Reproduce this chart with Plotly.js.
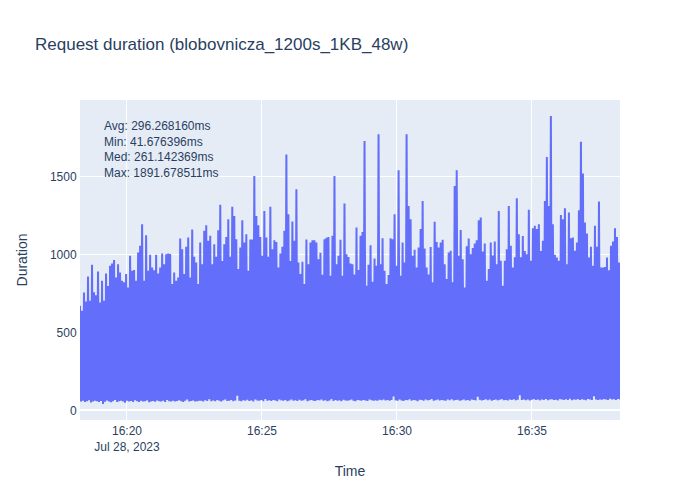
<!DOCTYPE html>
<html>
<head>
<meta charset="utf-8">
<script src="https://cdn.plot.ly/plotly-3.0.1.min.js"></script>
<style>html,body{margin:0;padding:0;background:#fff;}#chart{width:700px;height:500px;}</style>
</head>
<body>
<div id="chart"></div>
<script>
// Time window of the run (1200 s)
const startTime = '2023-07-28T16:18:15.600Z';
const runSeconds = 1200;

// Upper envelope of request durations (ms), read left to right
const peakDurations = [
  673, 640, 758, 700, 861, 705, 936, 760, 740, 893,
  694, 833, 705, 880, 800, 929, 944, 966, 855, 940,
  887, 833, 823, 876, 790, 994, 897, 902, 833, 1015,
  1058, 1197, 833, 1126, 897, 1000, 919, 900, 1000, 880,
  919, 1008, 940, 1003, 1008, 1005, 812, 887, 833, 855,
  1105, 1036, 876, 1051, 1111, 855, 1162, 987, 951, 812,
  1079, 940, 1154, 1190, 1090, 1122, 940, 1068, 987, 1158,
  1321, 960, 1068, 1115, 1229, 987, 1308, 1250, 1100, 908,
  1047, 1222, 1079, 1132, 897, 1098, 1098, 1506, 1250, 1190,
  1115, 994, 1282, 1111, 987, 1308, 1036, 1094, 1083, 919,
  1008, 1051, 1154, 1645, 1261, 960, 1214, 1090, 1421, 951,
  876, 955, 812, 1098, 940, 1079, 1094, 1094, 1079, 972,
  1013, 872, 1100, 1110, 1115, 865, 1122, 1506, 940, 994,
  1096, 865, 1329, 1004, 986, 944, 940, 873, 1175, 902,
  1122, 1147, 1731, 801, 936, 1062, 827, 976, 930, 1774,
  940, 1107, 897, 812, 870, 1107, 1100, 1261, 929, 1543,
  865, 1079, 951, 1774, 1314, 1229, 994, 1032, 919, 1047,
  1165, 1346, 1040, 919, 873, 1050, 823, 1212, 1083, 1047,
  1079, 1096, 940, 844, 1015, 1026, 823, 1442, 1543, 994,
  1160, 972, 790, 1055, 1105, 1004, 1043, 1072, 1094, 1222,
  1239, 1021, 1072, 833, 908, 1079, 995, 1085, 940, 1282,
  962, 801, 962, 1036, 1314, 1058, 919, 985, 1363, 1132,
  985, 1120, 1025, 1004, 1290, 962, 1171, 1186, 1165, 1197,
  1025, 1090, 1346, 1628, 1314, 1891.678511, 1197, 1000, 983, 962,
  1256, 1229, 1299, 940, 1271, 1107, 1111, 1026, 1079, 1286,
  1726, 1523, 1207, 1137, 983, 1051, 930, 1186, 1051, 1342,
  919, 919, 922, 983, 900, 1058, 1085, 1171, 1115, 951
];

// Lower envelope of request durations (ms), read left to right
const floorDurations = [
  58, 62, 55, 60, 66, 52, 57, 63, 59, 54,
  61, 41.676396, 56, 64, 58, 53, 60, 67, 55, 59,
  62, 57, 50, 63, 58, 61, 55, 66, 59, 54,
  62, 57, 60, 65, 53, 58, 61, 56, 64, 59,
  57, 62, 55, 68, 60, 58, 63, 57, 61, 66,
  59, 55, 62, 70, 58, 61, 64, 57, 60, 63,
  63, 58, 66, 61, 72, 59, 64, 60, 67, 62,
  58, 65, 70, 61, 63, 68, 60, 64, 95, 62,
  59, 66, 63, 69, 61, 65, 58, 71, 64, 62,
  67, 60, 73, 63, 66, 61, 68, 64, 60, 70,
  65, 62, 67, 59, 64, 71, 63, 66, 61, 69,
  62, 65, 72, 60, 64, 67, 63, 61, 68, 65,
  70, 62, 66, 59, 64, 73, 61, 67, 63, 65,
  60, 69, 64, 62, 66, 71, 63, 60, 67, 65,
  62, 68, 64, 61, 70, 66, 63, 65, 62, 69,
  66, 71, 64, 68, 62, 67, 90, 65, 63, 70,
  64, 61, 68, 66, 72, 63, 67, 65, 60, 69,
  67, 63, 70, 65, 68, 74, 62, 66, 71, 64,
  68, 65, 63, 70, 66, 72, 64, 67, 69, 62,
  66, 71, 64, 68, 63, 70, 67, 65, 88, 69,
  64, 68, 72, 66, 70, 63, 67, 71, 65, 69,
  73, 66, 68, 64, 70, 67, 72, 65, 69, 98,
  68, 71, 66, 70, 64, 69, 73, 67, 70, 65,
  71, 68, 74, 66, 70, 72, 67, 69, 65, 73,
  70, 67, 72, 68, 75, 66, 71, 69, 73, 68,
  72, 69, 66, 74, 70, 68, 92, 71, 67, 70,
  69, 73, 71, 68, 76, 70, 72, 67, 74, 71
];

const statLines = [
  'Avg: 296.268160ms',
  'Min: 41.676396ms',
  'Med: 261.142369ms',
  'Max: 1891.678511ms'
];

// Interleave peaks and floors in time order
const durations = [];
const n = Math.min(peakDurations.length, floorDurations.length);
for (let k = 0; k < n; k++) {
  durations.push(peakDurations[k]);
  durations.push(floorDurations[k]);
}
const t0 = Date.parse(startTime);
const step = runSeconds * 1000 / (durations.length - 1);
const times = durations.map((_, i) =>
  new Date(t0 + i * step).toISOString().replace('T', ' ').replace('Z', ''));

const data = [{
  type: 'scatter',
  mode: 'lines',
  x: times,
  y: durations,
  line: {color: '#636efa', width: 2}
}];

const axisStyle = {
  gridcolor: 'white',
  linecolor: 'white',
  zerolinecolor: 'white',
  zerolinewidth: 2,
  ticks: '',
  automargin: true
};

const layout = {
  width: 700,
  height: 500,
  font: {family: 'Arial, "Liberation Sans", sans-serif', color: '#2a3f5f', size: 12},
  paper_bgcolor: 'white',
  plot_bgcolor: '#E5ECF6',
  margin: {l: 80, r: 80, t: 100, b: 80},
  title: {text: 'Request duration (blobovnicza_1200s_1KB_48w)', x: 0.05, xanchor: 'left', font: {size: 17}},
  xaxis: Object.assign({title: {text: 'Time', standoff: 13}, type: 'date'}, axisStyle),
  yaxis: Object.assign({title: {text: 'Duration', standoff: 18}}, axisStyle),
  showlegend: false,
  annotations: [{
    xref: 'paper', yref: 'paper',
    x: 0.04, y: 0.946,
    xanchor: 'left', yanchor: 'top',
    align: 'left',
    showarrow: false,
    text: statLines.join('<br>'),
    font: {size: 12}
  }]
};

Plotly.newPlot('chart', data, layout, {displayModeBar: false});
</script>
</body>
</html>
